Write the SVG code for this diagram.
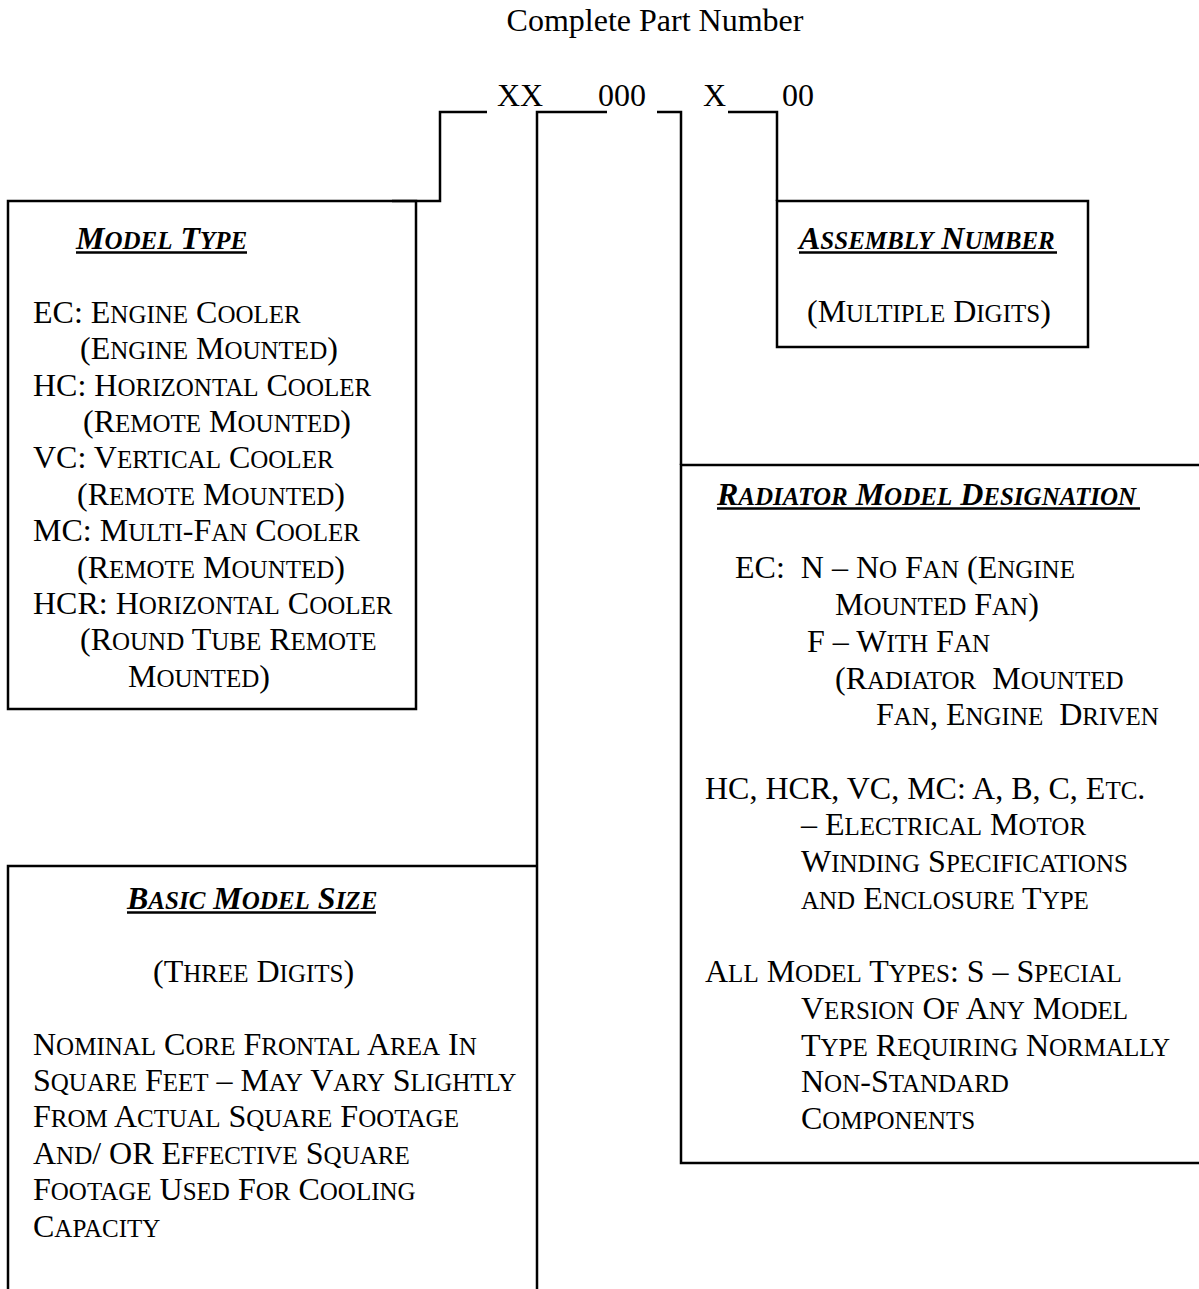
<svg xmlns="http://www.w3.org/2000/svg" width="1199" height="1289" viewBox="0 0 1199 1289">
<style>
.t{font-family:"Liberation Serif","Times New Roman",serif;font-size:32px;fill:#000;white-space:pre}
.s{font-size:25px}
.h{font-weight:bold;font-style:italic}
.ln{fill:none;stroke:#000;stroke-width:2.5}
.ul{stroke:#000;stroke-width:2.5}
</style>
<rect x="0" y="0" width="1199" height="1289" fill="#fff"/>
<g id="title">
<text class="t" x="655" y="31" text-anchor="middle">Complete Part Number</text>
</g>
<g id="part-number">
<text class="t" x="497" y="106">XX</text>
<text class="t" x="598" y="106">000</text>
<text class="t" x="703" y="106">X</text>
<text class="t" x="782" y="106">00</text>
</g>
<g id="connectors">
<path class="ln" d="M487,112 H440 V201 H392"/>
<path class="ln" d="M607,112 H537 V1291"/>
<path class="ln" d="M657,112 H681 V465"/>
<path class="ln" d="M728,112 H777 V201"/>
</g>
<g id="model-type">
<rect class="ln" x="8" y="201" width="408" height="508"/>
<text class="t h" x="76" y="249">M<tspan class="s">ODEL</tspan> T<tspan class="s">YPE</tspan></text>
<line class="ul" x1="76" y1="252.5" x2="247" y2="252.5"/>
<text class="t" x="33" y="322.8">EC: E<tspan class="s">NGINE</tspan> C<tspan class="s">OOLER</tspan></text>
<text class="t" x="80" y="359.2">(E<tspan class="s">NGINE</tspan> M<tspan class="s">OUNTED</tspan>)</text>
<text class="t" x="33" y="395.6">HC: H<tspan class="s">ORIZONTAL</tspan> C<tspan class="s">OOLER</tspan></text>
<text class="t" x="83" y="432">(R<tspan class="s">EMOTE</tspan> M<tspan class="s">OUNTED</tspan>)</text>
<text class="t" x="33" y="468.4">VC: V<tspan class="s">ERTICAL</tspan> C<tspan class="s">OOLER</tspan></text>
<text class="t" x="77" y="504.8">(R<tspan class="s">EMOTE</tspan> M<tspan class="s">OUNTED</tspan>)</text>
<text class="t" x="33" y="541.2">MC: M<tspan class="s">ULTI</tspan>-F<tspan class="s">AN</tspan> C<tspan class="s">OOLER</tspan></text>
<text class="t" x="77" y="577.6">(R<tspan class="s">EMOTE</tspan> M<tspan class="s">OUNTED</tspan>)</text>
<text class="t" x="33" y="614">HCR: H<tspan class="s">ORIZONTAL</tspan> C<tspan class="s">OOLER</tspan></text>
<text class="t" x="80" y="650.4">(R<tspan class="s">OUND</tspan> T<tspan class="s">UBE</tspan> R<tspan class="s">EMOTE</tspan></text>
<text class="t" x="128" y="686.8">M<tspan class="s">OUNTED</tspan>)</text>
</g>
<g id="assembly-number">
<rect class="ln" x="777" y="201" width="311" height="146"/>
<text class="t h" x="799" y="249">A<tspan class="s">SSEMBLY</tspan> N<tspan class="s">UMBER</tspan></text>
<line class="ul" x1="799" y1="252.5" x2="1057" y2="252.5"/>
<text class="t" x="807" y="322">(M<tspan class="s">ULTIPLE</tspan> D<tspan class="s">IGITS</tspan>)</text>
</g>
<g id="radiator-model-designation">
<path class="ln" d="M1201,465 H681 V1163 H1201"/>
<text class="t h" x="717" y="505">R<tspan class="s">ADIATOR</tspan> M<tspan class="s">ODEL</tspan> D<tspan class="s">ESIGNATION</tspan></text>
<line class="ul" x1="717" y1="508.5" x2="1140" y2="508.5"/>
<text class="t" x="735" y="578.4">EC:  N – N<tspan class="s">O</tspan> F<tspan class="s">AN</tspan> (E<tspan class="s">NGINE</tspan></text>
<text class="t" x="835" y="615.1">M<tspan class="s">OUNTED</tspan> F<tspan class="s">AN</tspan>)</text>
<text class="t" x="807" y="651.8">F – W<tspan class="s">ITH</tspan> F<tspan class="s">AN</tspan></text>
<text class="t" x="835" y="688.5">(R<tspan class="s">ADIATOR</tspan>  M<tspan class="s">OUNTED</tspan></text>
<text class="t" x="876" y="725.2">F<tspan class="s">AN</tspan>, E<tspan class="s">NGINE</tspan>  D<tspan class="s">RIVEN</tspan></text>
<text class="t" x="705" y="798.6">HC, HCR, VC, MC: A, B, C, E<tspan class="s">TC</tspan>.</text>
<text class="t" x="801" y="835.3">– E<tspan class="s">LECTRICAL</tspan> M<tspan class="s">OTOR</tspan></text>
<text class="t" x="801" y="872">W<tspan class="s">INDING</tspan> S<tspan class="s">PECIFICATIONS</tspan></text>
<text class="t" x="801" y="908.7"><tspan class="s">AND</tspan> E<tspan class="s">NCLOSURE</tspan> T<tspan class="s">YPE</tspan></text>
<text class="t" x="705" y="982.1">A<tspan class="s">LL</tspan> M<tspan class="s">ODEL</tspan> T<tspan class="s">YPES</tspan>: S – S<tspan class="s">PECIAL</tspan></text>
<text class="t" x="801" y="1018.8">V<tspan class="s">ERSION</tspan> O<tspan class="s">F</tspan> A<tspan class="s">NY</tspan> M<tspan class="s">ODEL</tspan></text>
<text class="t" x="801" y="1055.5">T<tspan class="s">YPE</tspan> R<tspan class="s">EQUIRING</tspan> N<tspan class="s">ORMALLY</tspan></text>
<text class="t" x="801" y="1092.2">N<tspan class="s">ON</tspan>-S<tspan class="s">TANDARD</tspan></text>
<text class="t" x="801" y="1128.9">C<tspan class="s">OMPONENTS</tspan></text>
</g>
<g id="basic-model-size">
<path class="ln" d="M8,1291 V866 H537"/>
<text class="t h" x="127" y="909">B<tspan class="s">ASIC</tspan> M<tspan class="s">ODEL</tspan> S<tspan class="s">IZE</tspan></text>
<line class="ul" x1="127" y1="912.5" x2="376" y2="912.5"/>
<text class="t" x="153" y="981.8">(T<tspan class="s">HREE</tspan> D<tspan class="s">IGITS</tspan>)</text>
<text class="t" x="33" y="1054.6">N<tspan class="s">OMINAL</tspan> C<tspan class="s">ORE</tspan> F<tspan class="s">RONTAL</tspan> A<tspan class="s">REA</tspan> I<tspan class="s">N</tspan></text>
<text class="t" x="33" y="1091">S<tspan class="s">QUARE</tspan> F<tspan class="s">EET</tspan> – M<tspan class="s">AY</tspan> V<tspan class="s">ARY</tspan> S<tspan class="s">LIGHTLY</tspan></text>
<text class="t" x="33" y="1127.4">F<tspan class="s">ROM</tspan> A<tspan class="s">CTUAL</tspan> S<tspan class="s">QUARE</tspan> F<tspan class="s">OOTAGE</tspan></text>
<text class="t" x="33" y="1163.8">A<tspan class="s">ND</tspan>/ OR E<tspan class="s">FFECTIVE</tspan> S<tspan class="s">QUARE</tspan></text>
<text class="t" x="33" y="1200.2">F<tspan class="s">OOTAGE</tspan> U<tspan class="s">SED</tspan> F<tspan class="s">OR</tspan> C<tspan class="s">OOLING</tspan></text>
<text class="t" x="33" y="1236.6">C<tspan class="s">APACITY</tspan></text>
</g>
</svg>
